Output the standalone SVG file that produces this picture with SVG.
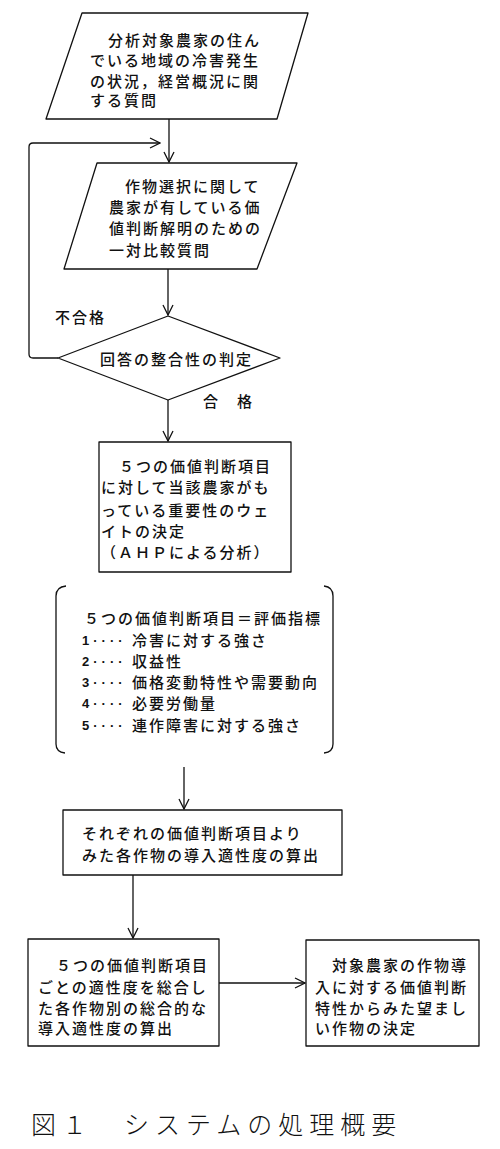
<svg xmlns="http://www.w3.org/2000/svg" width="500" height="1149" viewBox="0 0 500 1149">
<style>
.s{fill:none;stroke:#111;stroke-width:1.3;stroke-linejoin:round}
.n{fill:#fff;stroke:#111;stroke-width:1.3;stroke-linejoin:round}
.t{font-family:"Noto Sans CJK JP","Noto Sans CJK SC",sans-serif;font-size:15px;letter-spacing:2px;fill:#111;font-weight:500}
.d{font-family:"Liberation Sans",sans-serif;font-size:13px;letter-spacing:4px;fill:#111;font-weight:bold}
.c{font-family:"Noto Sans CJK JP",sans-serif;font-size:25px;letter-spacing:6px;fill:#111;font-weight:300}
</style>
<defs>
<marker id="ah" markerUnits="userSpaceOnUse" markerWidth="12" markerHeight="12" refX="11" refY="6" orient="auto">
<path d="M1,1 L11,6 L1,11" fill="none" stroke="#111" stroke-width="1.3"/>
</marker>
</defs>
<g id="connectors">
<path class="s" d="M169,119 V162" marker-end="url(#ah)"/>
<path class="s" d="M58,358 H33 Q29,358 29,354 V147 Q29,143 33,143 H160" marker-end="url(#ah)"/>
<path class="s" d="M168,269 V315" marker-end="url(#ah)"/>
<path class="s" d="M168,400 V441" marker-end="url(#ah)"/>
<path class="s" d="M184,767 V809" marker-end="url(#ah)"/>
<path class="s" d="M133,875 V938" marker-end="url(#ah)"/>
<path class="s" d="M219,983 H305" marker-end="url(#ah)"/>
</g>
<g id="n1">
<polygon class="n" points="82,13 308,13 277,119 46,119"/>
<text class="t" x="108" y="45.5">分析対象農家の住ん</text>
<text class="t" x="90" y="65.5">でいる地域の冷害発生</text>
<text class="t" x="90" y="86.5">の状況，経営概況に関</text>
<text class="t" x="90" y="105.5">する質問</text>
</g>
<g id="n2">
<polygon class="n" points="97,163 297,163 257,269 64,269"/>
<text class="t" x="125" y="191.5">作物選択に関して</text>
<text class="t" x="109" y="212.5">農家が有している価</text>
<text class="t" x="109" y="233.5">値判断解明のための</text>
<text class="t" x="109" y="255.5">一対比較質問</text>
</g>
<g id="n3">
<polygon class="n" points="168,316 280,358 168,400 58,358"/>
<text class="t" x="100" y="364.5">回答の整合性の判定</text>
</g>
<g id="labels">
<text class="t" x="55" y="322.5">不合格</text>
<text class="t" x="203" y="406.5">合　格</text>
</g>
<g id="n4">
<rect class="n" x="99" y="442" width="192" height="130"/>
<text class="t" x="119" y="471.5">５つの価値判断項目</text>
<text class="t" x="101" y="492.5">に対して当該農家がも</text>
<text class="t" x="101" y="515.5">っている重要性のウェ</text>
<text class="t" x="101" y="536.5">イトの決定</text>
<text class="t" x="101" y="557.5">（ＡＨＰによる分析）</text>
</g>
<g id="n5">
<path class="s" d="M66,586 Q56,587 56,596 V744 Q56,752 65,753"/>
<path class="s" d="M324,586 Q333,587 333,596 V744 Q333,752 324,753"/>
<text class="t" x="84" y="623.5">５つの価値判断項目＝評価指標</text>
<text class="d" x="82" y="645">1····</text>
<text class="t" x="132" y="645.5">冷害に対する強さ</text>
<text class="d" x="82" y="666">2····</text>
<text class="t" x="132" y="666.5">収益性</text>
<text class="d" x="82" y="687">3····</text>
<text class="t" x="132" y="687.5">価格変動特性や需要動向</text>
<text class="d" x="82" y="708">4····</text>
<text class="t" x="132" y="708.5">必要労働量</text>
<text class="d" x="82" y="730">5····</text>
<text class="t" x="132" y="730.5">連作障害に対する強さ</text>
</g>
<g id="n6">
<rect class="n" x="63" y="810" width="279" height="65"/>
<text class="t" x="82" y="838.5">それぞれの価値判断項目より</text>
<text class="t" x="82" y="860.5">みた各作物の導入適性度の算出</text>
</g>
<g id="n7">
<rect class="n" x="28" y="939" width="191" height="107"/>
<text class="t" x="56" y="970.5">５つの価値判断項目</text>
<text class="t" x="38" y="992.5">ごとの適性度を総合し</text>
<text class="t" x="38" y="1013.5">た各作物別の総合的な</text>
<text class="t" x="38" y="1033.5">導入適性度の算出</text>
</g>
<g id="n8">
<rect class="n" x="306" y="940" width="173" height="106"/>
<text class="t" x="332" y="970.5">対象農家の作物導</text>
<text class="t" x="315" y="992.5">入に対する価値判断</text>
<text class="t" x="315" y="1013.5">特性からみた望まし</text>
<text class="t" x="315" y="1033.5">い作物の決定</text>
</g>
<g id="caption">
<text class="c" x="31" y="1134">図１　システムの処理概要</text>
</g>
</svg>
